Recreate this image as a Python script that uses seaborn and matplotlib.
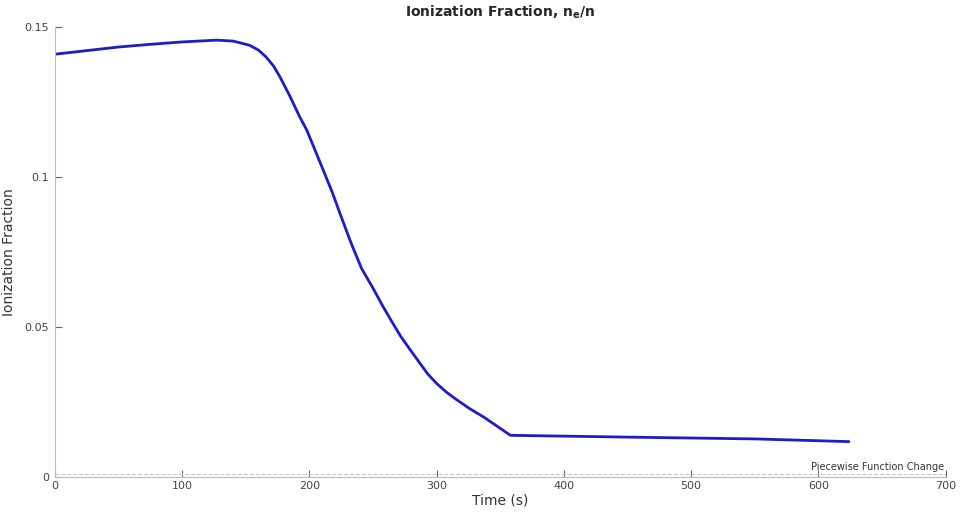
import numpy as np
import pandas as pd
import seaborn as sns
import matplotlib.pyplot as plt

sns.set_theme(style="white")
plt.rcParams['font.family'] = ['DejaVu Sans']

# values
time_s = [0, 50, 75, 100, 127, 140, 153, 160, 166, 172, 177, 185, 192, 198, 205, 211,
          218, 224, 230, 234, 241, 250, 258, 265, 272, 280, 287, 293, 300, 308, 316,
          326, 337, 358, 450, 550, 624]
ion_frac = [0.1410, 0.1434, 0.1443, 0.1451, 0.1457, 0.1454, 0.1440, 0.1424, 0.1401, 0.1370,
            0.1334, 0.1268, 0.1205, 0.1157, 0.1085, 0.1023, 0.0950, 0.0880, 0.0812, 0.0768,
            0.0696, 0.0630, 0.0568, 0.0517, 0.0468, 0.0420, 0.0379, 0.0344, 0.0312, 0.0282,
            0.0257, 0.0228, 0.0200, 0.0139, 0.0133, 0.0127, 0.0118]

df = pd.DataFrame({"Time (s)": time_s, "Ionization Fraction": ion_frac})

fig = plt.figure(figsize=(9.61, 5.14), dpi=100)
ax = fig.add_axes([0.057, 0.072, 0.927, 0.875])

sns.lineplot(data=df, x="Time (s)", y="Ionization Fraction", ax=ax,
             color="#1c1cc8", linewidth=2.0)

ax.axhline(0.0009, color="#c8c8c8", linestyle="--", linewidth=0.8)
ax.text(699, 0.0016, "Piecewise Function Change", ha="right", va="bottom",
        fontsize=7, color="#333333")

ax.set_xlim(0, 700)
ax.set_ylim(0, 0.15)
ax.set_xticks([0, 100, 200, 300, 400, 500, 600, 700])
ax.set_yticks([0, 0.05, 0.1, 0.15])
ax.set_yticklabels(["0", "0.05", "0.1", "0.15"])
ax.tick_params(bottom=True, left=True, direction="in", length=5, width=0.8,
               colors="#666666", labelsize=8, labelcolor="#444444")
ax.tick_params(axis="x", pad=3)
ax.tick_params(axis="y", pad=4)
for s in ["top", "right"]:
    ax.spines[s].set_visible(False)
for s in ["left", "bottom"]:
    ax.spines[s].set_color("#bbbbbb")
    ax.spines[s].set_linewidth(0.8)

ax.set_xlabel("Time (s)", fontsize=10, color="#333333", labelpad=2)
ax.set_ylabel("Ionization Fraction", fontsize=10, color="#333333", labelpad=6)
ax.set_title(r"Ionization Fraction, n$_\mathregular{e}$/n", fontsize=10,
             fontweight="bold", pad=8)

fig.savefig("out.png", dpi=100)
